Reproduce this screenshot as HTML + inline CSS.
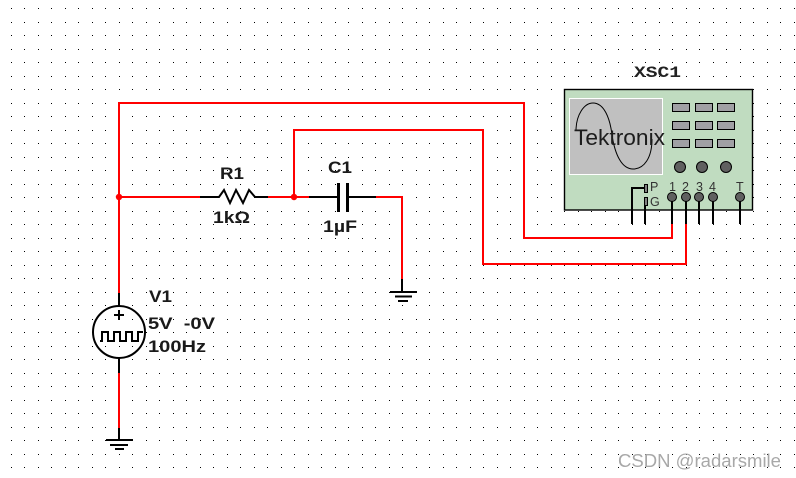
<!DOCTYPE html>
<html>
<head>
<meta charset="utf-8">
<style>
html,body{margin:0;padding:0;background:#fff;width:796px;height:478px;overflow:hidden}
svg{display:block}
text{font-family:"Liberation Sans",sans-serif}
.b{font-weight:bold;font-size:17px;fill:#1a1a1a}
.p{font-size:12.500px;fill:#333}
.c{shape-rendering:crispEdges}
</style>
</head>
<body>
<svg width="796" height="478" viewBox="0 0 796 478" xmlns="http://www.w3.org/2000/svg">
<defs>
<pattern id="g" width="27" height="27" patternUnits="userSpaceOnUse">
<rect x="11" y="8" width="1" height="1" fill="#000"/>
<rect x="24" y="8" width="1" height="1" fill="#000"/>
<rect x="11" y="22" width="1" height="1" fill="#000"/>
<rect x="24" y="22" width="1" height="1" fill="#000"/>
</pattern>
</defs>
<rect width="796" height="478" fill="#fff"/>
<rect width="796" height="478" fill="url(#g)"/>

<!-- oscilloscope body -->
<rect x="564.5" y="89.5" width="188" height="120.5" fill="#c0dcc0" stroke="#000" stroke-width="1.400"/>
<rect x="569.5" y="98.5" width="93" height="76" fill="#c0c0c0" stroke="#fff" stroke-width="1"/>
<path d="M576 131 C576 115 584 103 593 103 C604 103 610 118 612 135 C615 155 622 169 633 169 C644 169 652 158 652 139" fill="none" stroke="#000" stroke-width="1"/>
<g fill="#a0a0a4" stroke="#000" stroke-width="1" class="c">
<rect x="672.5" y="103.5" width="17" height="8"/><rect x="695.5" y="103.5" width="17" height="8"/><rect x="717.5" y="103.5" width="17" height="8"/>
<rect x="672.5" y="121.5" width="17" height="8"/><rect x="695.5" y="121.5" width="17" height="8"/><rect x="717.5" y="121.5" width="17" height="8"/>
<rect x="672.5" y="139.5" width="17" height="8"/><rect x="695.5" y="139.5" width="17" height="8"/><rect x="717.5" y="139.5" width="17" height="8"/>
</g>
<g fill="#606060" stroke="#000" stroke-width="1">
<circle cx="680" cy="167" r="5.500"/><circle cx="702" cy="167" r="5.500"/><circle cx="726" cy="167" r="5.500"/>
</g>
<text x="574" y="145" font-size="22" fill="#1c1c1c" textLength="91" lengthAdjust="spacingAndGlyphs">Tektronix</text>
<text x="634" y="77" font-size="16" font-weight="bold" fill="#222" textLength="47" lengthAdjust="spacingAndGlyphs" style="font-family:'Liberation Mono',monospace">XSC1</text>

<!-- scope pins -->
<g stroke="#000" stroke-width="2" fill="none" class="c">
<path d="M632 224V188H644"/>
<path d="M645 205V224"/>
<path d="M672 197V224"/><path d="M686 197V224"/><path d="M699 197V224"/><path d="M713 197V224"/><path d="M740 197V224"/>
</g>
<g fill="#808080" stroke="#000" stroke-width="1" class="c">
<rect x="644.5" y="184.5" width="3" height="8"/>
<rect x="644.5" y="197.5" width="3" height="8"/>
</g>
<g fill="#606060" stroke="#000" stroke-width="1">
<circle cx="672" cy="197" r="4.500"/><circle cx="686" cy="197" r="4.500"/><circle cx="699" cy="197" r="4.500"/><circle cx="713" cy="197" r="4.500"/><circle cx="740" cy="197" r="4.500"/>
</g>
<text class="p" x="650" y="191">P</text>
<text class="p" x="650" y="206">G</text>
<text class="p" x="669" y="191">1</text>
<text class="p" x="682" y="191">2</text>
<text class="p" x="696" y="191">3</text>
<text class="p" x="709" y="191">4</text>
<text class="p" x="736" y="191">T</text>

<!-- black leads -->
<g stroke="#000" stroke-width="2" fill="none" class="c">
<path d="M119 293V306"/><path d="M119 358V373"/><path d="M119 428V440"/>
<path d="M200 197H214"/><path d="M255 197H268"/>
<path d="M309 197H338"/><path d="M347 197H376"/>
<path d="M402 279V292"/>
</g>
<path d="M213 197H219L224 190L230 203L236 190L243 203L249 190L255 197" stroke="#000" stroke-width="2" fill="none"/>
<g stroke="#000" stroke-width="3" fill="none" class="c">
<path d="M338.5 183V212"/><path d="M347.5 183V212"/>
</g>
<g stroke="#000" stroke-width="2" class="c">
<path d="M390 292H417"/><path d="M395 296.500H412"/><path d="M398 301H408"/>
<path d="M106 440H133"/><path d="M110 445H128"/><path d="M115 449H124"/>
</g>

<!-- red wires -->
<g stroke="#f00" stroke-width="2" fill="none" class="c">
<path d="M119 293V103H524V238H672V224"/>
<path d="M119 373V428"/>
<path d="M119 197H200"/>
<path d="M268 197H309"/>
<path d="M294 197V130H483V264H686V224"/>
<path d="M376 197H402V279"/>
</g>
<circle cx="119" cy="197" r="3.200" fill="#f00"/>
<circle cx="294" cy="197" r="3.200" fill="#f00"/>

<!-- source -->
<circle cx="119" cy="332" r="26" fill="none" stroke="#000" stroke-width="2"/>
<path d="M119 310V320M114 315H124" stroke="#000" stroke-width="2" fill="none" class="c"/>
<path d="M100 341H102V332H108V341H114V332H120V341H126V332H132V341H138V332H143" fill="none" stroke="#000" stroke-width="1.600" class="c"/>

<!-- labels -->
<text class="b" x="220" y="179" textLength="24" lengthAdjust="spacingAndGlyphs">R1</text>
<text class="b" x="213" y="223" textLength="37" lengthAdjust="spacingAndGlyphs">1kΩ</text>
<text class="b" x="328" y="173" textLength="24" lengthAdjust="spacingAndGlyphs">C1</text>
<text class="b" x="323" y="232" textLength="34" lengthAdjust="spacingAndGlyphs">1µF</text>
<text class="b" x="149" y="302" textLength="23" lengthAdjust="spacingAndGlyphs">V1</text>
<text class="b" x="148" y="329" xml:space="preserve" textLength="67" lengthAdjust="spacingAndGlyphs">5V  -0V</text>
<text class="b" x="148" y="352" textLength="58" lengthAdjust="spacingAndGlyphs">100Hz</text>

<text x="618" y="467" font-size="18" fill="#a8a8a8" textLength="163" lengthAdjust="spacingAndGlyphs">CSDN @radarsmile</text>
</svg>
</body>
</html>
